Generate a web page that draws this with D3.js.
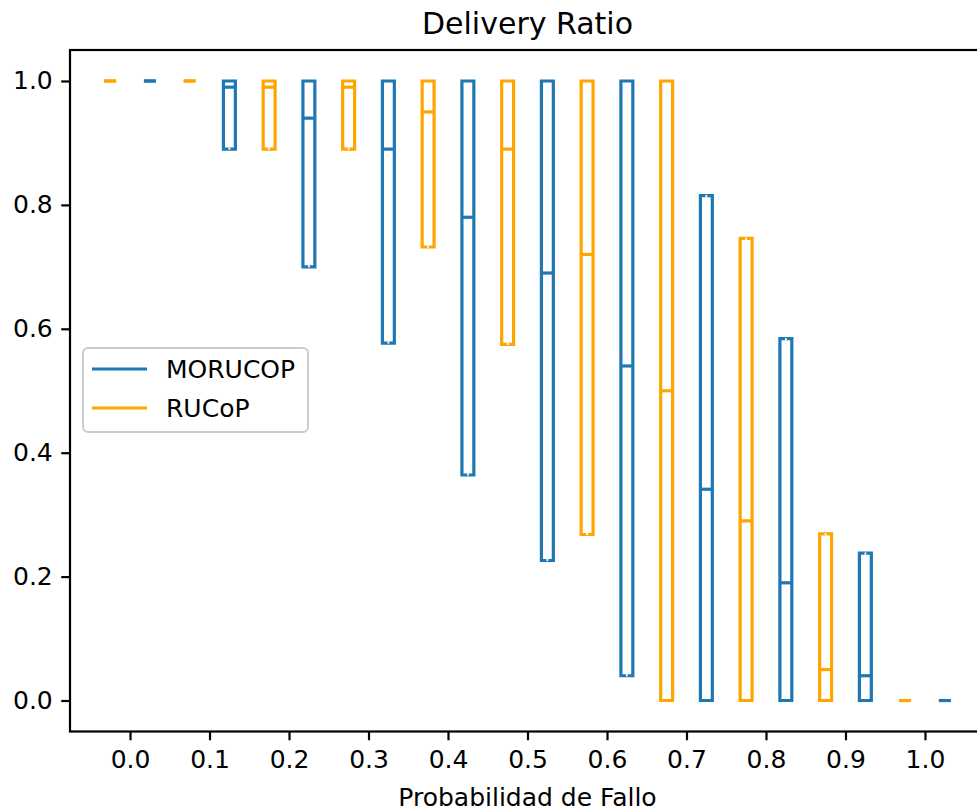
<!DOCTYPE html>
<html>
<head>
<meta charset="utf-8">
<script src="https://cdn.jsdelivr.net/npm/d3@7"></script>
<style>
  body { margin: 0; background: #fff; }
  svg { display: block; font-family: "DejaVu Sans", sans-serif; }
</style>
</head>
<body>
<div id="chart"></div>
<script>
// data
const probs = [0.0, 0.1, 0.2, 0.3, 0.4, 0.5, 0.6, 0.7, 0.8, 0.9, 1.0];
const tickLabels = ['0.0', '0.1', '0.2', '0.3', '0.4', '0.5', '0.6', '0.7', '0.8', '0.9', '1.0'];
const yTicks = [0.0, 0.2, 0.4, 0.6, 0.8, 1.0];
const seriesNames = ['MORUCOP', 'RUCoP'];

const morucopQ1  = [1.0, 0.89, 0.70, 0.577, 0.364, 0.226, 0.04, 0.0, 0.0, 0.0, 0.0];
const morucopMed = [1.0, 0.99, 0.94, 0.89, 0.78, 0.69, 0.54, 0.341, 0.19, 0.04, 0.0];
const morucopQ3  = [1.0, 1.0, 1.0, 1.0, 1.0, 1.0, 1.0, 0.815, 0.584, 0.238, 0.0];

const rucopQ1  = [1.0, 1.0, 0.89, 0.89, 0.732, 0.575, 0.268, 0.0, 0.0, 0.0, 0.0];
const rucopMed = [1.0, 1.0, 0.99, 0.99, 0.95, 0.89, 0.72, 0.50, 0.29, 0.05, 0.0];
const rucopQ3  = [1.0, 1.0, 1.0, 1.0, 1.0, 1.0, 1.0, 1.0, 0.746, 0.269, 0.0];

const colors = { MORUCOP: '#1f77b4', RUCoP: '#ffa500' };
const offsets = { MORUCOP: 0.025, RUCoP: -0.025 };

function buildBoxes(name, q1, med, q3) {
    return probs.map((p, i) => ({ name: name, p: p, q1: q1[i], med: med[i], q3: q3[i] }));
}

const boxes = buildBoxes('RUCoP', rucopQ1, rucopMed, rucopQ3)
    .concat(buildBoxes('MORUCOP', morucopQ1, morucopMed, morucopQ3));

const width = 977;
const height = 812;
const margin = { top: 50, right: -8, bottom: 80, left: 70 };

const x = d3.scaleLinear()
    .domain([-0.0755, 1.0755])
    .range([margin.left, width - margin.right]);

const y = d3.scaleLinear()
    .domain([-0.05, 1.05])
    .range([height - margin.bottom - 0.5, margin.top]);

const boxW = x(0.015) - x(0);

const svg = d3.select('#chart').append('svg')
    .attr('width', width)
    .attr('height', height);

// boxes
const g = svg.append('g')
    .attr('fill', 'none')
    .attr('stroke-width', 3.2);

const box = g.selectAll('g.box')
    .data(boxes)
    .join('g')
        .attr('class', 'box')
        .attr('stroke', d => colors[d.name]);

box.append('path')
    .attr('d', d => {
        let cx = x(d.p + offsets[d.name]);
        let x0 = cx - boxW / 2, x1 = cx + boxW / 2;
        return `M${x0},${y(d.q1)}H${x1}V${y(d.q3)}H${x0}Z`;
    });

box.append('line')
    .attr('x1', d => x(d.p + offsets[d.name]) - boxW / 2)
    .attr('x2', d => x(d.p + offsets[d.name]) + boxW / 2)
    .attr('y1', d => y(d.med))
    .attr('y2', d => y(d.med));

// little gap where the whisker caps sit on the box edge
const caps = [];
boxes.forEach(d => {
    if (d.q1 === d.q3) return;
    if (d.q1 > 0 && d.q1 < 1) caps.push({ d: d, v: d.q1, dir: -1 });
    if (d.q3 > 0 && d.q3 < 1) caps.push({ d: d, v: d.q3, dir: 1 });
});

g.selectAll('line.cap')
    .data(caps)
    .join('line')
        .attr('class', 'cap')
        .attr('stroke', '#fff')
        .attr('stroke-width', 1.8)
        .attr('x1', c => x(c.d.p + offsets[c.d.name]))
        .attr('x2', c => x(c.d.p + offsets[c.d.name]))
        .attr('y1', c => y(c.v) + c.dir * 1.6)
        .attr('y2', c => y(c.v) - c.dir * 0.6);

// frame
svg.append('rect')
    .attr('x', margin.left)
    .attr('y', margin.top)
    .attr('width', x.range()[1] - margin.left)
    .attr('height', y.range()[0] - margin.top)
    .attr('fill', 'none')
    .attr('stroke', '#000')
    .attr('stroke-width', 2.2);

const xAxis = svg.append('g')
    .attr('transform', `translate(0,${y.range()[0]})`)
    .call(d3.axisBottom(x)
        .tickValues(probs)
        .tickFormat((d, i) => tickLabels[i])
        .tickSize(8.75)
        .tickPadding(10)
        .tickSizeOuter(0));

const yAxis = svg.append('g')
    .attr('transform', `translate(${margin.left},0)`)
    .call(d3.axisLeft(y)
        .tickValues(yTicks)
        .tickFormat(d3.format('.1f'))
        .tickSize(8.75)
        .tickPadding(8.5)
        .tickSizeOuter(0));

[xAxis, yAxis].forEach(a => {
    a.select('.domain').remove();
    a.selectAll('.tick line').attr('stroke', '#000').attr('stroke-width', 2.2);
    a.selectAll('.tick text')
        .attr('fill', '#000')
        .style('font-family', '"DejaVu Sans", sans-serif')
        .style('font-size', '25px');
});

svg.append('text')
    .attr('x', (margin.left + x.range()[1]) / 2)
    .attr('y', 34)
    .attr('text-anchor', 'middle')
    .style('font-size', '30px')
    .text('Delivery Ratio');

svg.append('text')
    .attr('x', (margin.left + x.range()[1]) / 2)
    .attr('y', 806)
    .attr('text-anchor', 'middle')
    .style('font-size', '25px')
    .text('Probabilidad de Fallo');

// legend
const legend = svg.append('g');

legend.append('rect')
    .attr('x', 83)
    .attr('y', 348)
    .attr('width', 225)
    .attr('height', 84)
    .attr('rx', 5)
    .attr('fill', '#fff')
    .attr('fill-opacity', 0.8)
    .attr('stroke', '#cccccc')
    .attr('stroke-width', 2);

const item = legend.selectAll('g.item')
    .data(seriesNames)
    .join('g')
        .attr('class', 'item')
        .attr('transform', (d, i) => `translate(0,${369 + i * 39})`);

item.append('line')
    .attr('x1', 92)
    .attr('x2', 147)
    .attr('stroke', d => colors[d])
    .attr('stroke-width', 3.2);

item.append('text')
    .attr('x', 166)
    .attr('y', 9)
    .style('font-size', '25px')
    .text(d => d);
</script>
</body>
</html>
